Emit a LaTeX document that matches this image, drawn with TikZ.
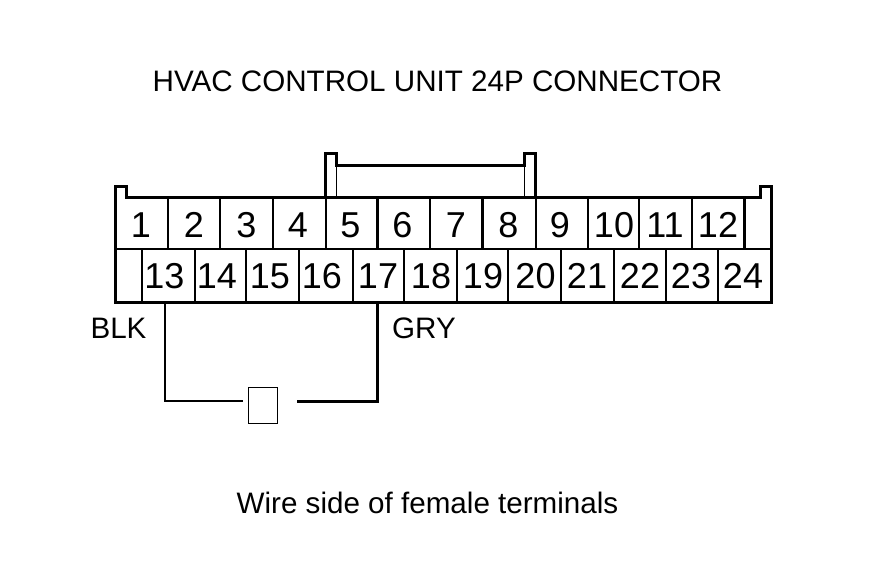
\documentclass[tikz,border=0pt]{standalone}
\usepackage{fontspec}
\setmainfont{Liberation Sans}
\usetikzlibrary{calc,positioning}
\tikzset{
  shell/.style={line width=3pt,line join=miter},
  cavity/.style={line width=2.4pt},
  wire/.style={line width=2pt,line join=miter},
  heavywire/.style={line width=3pt,line join=miter},
  hairline/.style={line width=1pt},
  pin/.style={inner sep=0pt,anchor=base,font=\fontsize{36}{36}\selectfont},
  caption/.style={inner sep=0pt,anchor=base,font=\fontsize{29.6}{30}\selectfont},
}
\begin{document}
\begin{tikzpicture}[x=1pt,y=-1pt]
\useasboundingbox (0,0) rectangle (880,578);
\fill[white] (0,0) rectangle (880,578);
\node[caption] (title) at (437.5,91) {HVAC CONTROL UNIT 24P CONNECTOR};
\node[caption] (blk) at (118.5,338) {BLK};
\node[caption] (gry) at (424,338) {GRY};
\node[caption] (note) at (427.5,513) {Wire side of female terminals};
% cavity dividers
\foreach \x in {167.7,220,273,325.7,377.3,430,482.3,535.7,587.7,639,691.7,744.3}
    \draw[cavity] (\x,197) -- (\x,249);
\foreach \x in {141.7,195,246,299,352.7,404,456.7,508,561,614,666,718}
    \draw[cavity] (\x,249) -- (\x,302);
\draw[cavity] (115.7,249) -- (771,249);
% latch
\draw[hairline] (336.5,165) -- (336.5,197);
\draw[hairline] (524,165) -- (524,197);
% shell
\draw[shell] (115.7,302) -- (115.7,186) -- (126,186) -- (126,197) -- (325.7,197)
    -- (325.7,153.5) -- (336.5,153.5) -- (336.5,165) -- (524,165) -- (524,153.5)
    -- (535.7,153.5) -- (535.7,197) -- (760,197) -- (760,186) -- (771,186)
    -- (771,302) -- cycle;
\draw[shell] (325.7,197) -- (535.7,197);
% top row
\foreach \n/\x in {1/141,2/194,3/246.5,4/298,5/350.5,6/402.5,7/456,8/508.5,9/560,10/614,11/665,12/718}
    \node[pin] (pin\n) at (\x,237) {\n};
% bottom row
\foreach \n/\x in {13/164.5,14/217,15/270,16/322,17/378,18/431,19/483,20/535.5,21/587,22/640,23/691,24/743}
    \node[pin] (pin\n) at (\x,288.5) {\n};
% wires
\node[draw,hairline,minimum width=28.6pt,minimum height=35.6pt,inner sep=0pt] (part) at (263,405.5) {};
\coordinate (wireA) at (165,302);
\coordinate (wireB) at (377.5,302);
\coordinate (endA) at (243,401);
\coordinate (endB) at (297,401);
\draw[wire] (wireA) |- (endA);
\draw[heavywire] (wireB) |- (endB);
\end{tikzpicture}
\end{document}
